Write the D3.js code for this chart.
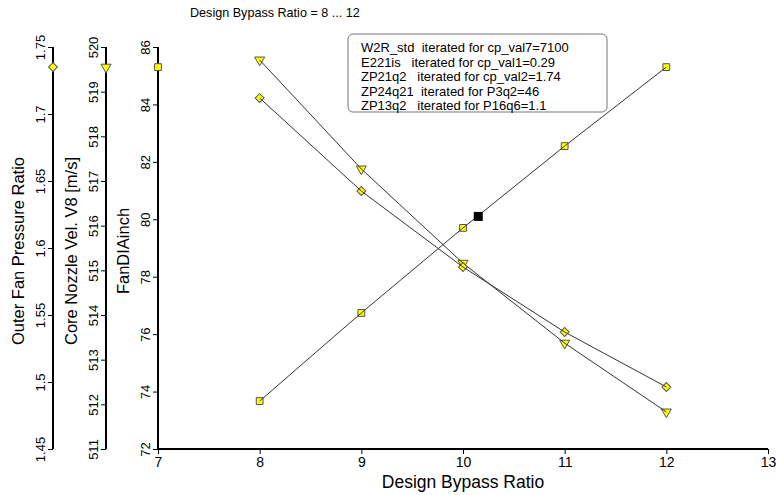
<!DOCTYPE html>
<html>
<head>
<meta charset="utf-8">
<script src="https://cdn.jsdelivr.net/npm/d3@7"></script>
<style>
  body { margin: 0; background: #fff; }
  svg { font-family: "Liberation Sans", Arial, sans-serif; }
</style>
</head>
<body>
<div id="chart"></div>
<script>
// design bypass ratio on x
const bpr = [8, 9, 10, 11, 12]
// three series, each on its own y axis
const fanDia = [73.67, 76.74, 79.70, 82.55, 85.30]
const coreVel = [519.71, 517.27, 515.16, 513.37, 511.83]
const outerFpr = [1.7119, 1.6425, 1.5858, 1.5373, 1.4963]
// marker shown on each left axis
const axisMarks = { fpr: 1.735, vel: 519.55, dia: 85.3 }
// the current operating point
const current = { bpr: 10.15, dia: 80.1 }

const fprTicks = [1.45, 1.5, 1.55, 1.6, 1.65, 1.7, 1.75]
const velTicks = [511, 512, 513, 514, 515, 516, 517, 518, 519, 520]
const diaTicks = [72, 74, 76, 78, 80, 82, 84, 86]
const xTicks = [7, 8, 9, 10, 11, 12, 13]

const legendLines = [
    "W2R_std  iterated for cp_val7=7100",
    "E221is   iterated for cp_val1=0.29",
    "ZP21q2   iterated for cp_val2=1.74",
    "ZP24q21  iterated for P3q2=46",
    "ZP13q2   iterated for P16q6=1.1"
]

const width = 776, height = 495
const plotTop = 47, plotBottom = 449
const axFpr = 53, axVel = 106, axDia = 158, plotRight = 768

const svg = d3.select("#chart").append("svg")
    .attr("width", width)
    .attr("height", height)

const x = d3.scaleLinear().domain([7, 13]).range([axDia, plotRight])
const yDia = d3.scaleLinear().domain([72, 86]).range([plotBottom, plotTop])
const yVel = d3.scaleLinear().domain([511, 520]).range([plotBottom, plotTop])
const yFpr = d3.scaleLinear().domain([1.45, 1.75]).range([plotBottom, plotTop])

// title
svg.append("text")
    .attr("x", 190).attr("y", 17)
    .attr("font-size", 12.6)
    .text("Design Bypass Ratio = 8 ... 12")

// left axes, rotated labels
function leftAxis(scale, ticks, xPos, title) {
    const g = svg.append("g")
        .attr("transform", "translate(" + xPos + ",0)")
        .call(d3.axisLeft(scale).tickValues(ticks).tickSize(5).tickFormat(d => d))
    g.select(".domain").attr("stroke-width", 2).attr("d", "M0," + plotTop + "V" + plotBottom)
    g.selectAll(".tick line").attr("stroke-width", 1)
    g.selectAll(".tick text")
        .attr("x", 0).attr("dy", 0)
        .attr("text-anchor", "middle")
        .attr("font-size", 13)
        .attr("fill", "#000")
        .attr("transform", "translate(-8,0) rotate(-90)")
    svg.append("text")
        .attr("transform", "translate(" + (xPos - 29) + ",251) rotate(-90)")
        .attr("text-anchor", "middle")
        .attr("font-size", 16.5)
        .text(title)
}
leftAxis(yFpr, fprTicks, axFpr, "Outer Fan Pressure Ratio")
leftAxis(yVel, velTicks, axVel, "Core Nozzle Vel. V8 [m/s]")
leftAxis(yDia, diaTicks, axDia, "FanDIAinch")

// bottom axis
const gx = svg.append("g")
    .attr("transform", "translate(0," + plotBottom + ")")
    .call(d3.axisBottom(x).tickValues(xTicks).tickSize(5).tickFormat(d => d))
gx.select(".domain").attr("stroke-width", 2).attr("d", "M" + (axDia - 1) + ",0H" + plotRight)
gx.selectAll(".tick text").attr("font-size", 14).attr("fill", "#000").attr("y", 7).attr("dy", "0.8em")
svg.append("text")
    .attr("x", (axDia + plotRight) / 2).attr("y", 488)
    .attr("text-anchor", "middle")
    .attr("font-size", 17.5)
    .text("Design Bypass Ratio")

// legend box
const lg = svg.append("g").attr("transform", "translate(348,34)")
lg.append("rect")
    .attr("width", 259).attr("height", 78).attr("rx", 5)
    .attr("fill", "#fff").attr("stroke", "#777")
lg.selectAll("text")
    .data(legendLines)
    .enter()
    .append("text")
    .attr("x", 13)
    .attr("y", (d, i) => 18 + i * 14.5)
    .attr("font-size", 13)
    .style("white-space", "pre")
    .text(d => d)

// markers
const fill = "#ffff00", edge = "#555"
const sym = {
    square: d3.symbol().type(d3.symbolSquare).size(46),
    diamond: d3.symbol().type(d3.symbolSquare).size(40),
    tri: d3.symbol().type(d3.symbolTriangle).size(44)
}

function drawSeries(vals, yScale, shape, rot) {
    const pts = bpr.map((b, i) => [x(b), yScale(vals[i])])
    svg.append("g").selectAll("path")
        .data(pts)
        .enter()
        .append("path")
        .attr("d", sym[shape]())
        .attr("transform", d => "translate(" + d[0] + "," + d[1] + ") rotate(" + rot + ")")
        .attr("fill", fill).attr("stroke", edge).attr("stroke-width", 1)
    svg.append("path")
        .attr("d", d3.line()(pts))
        .attr("fill", "none").attr("stroke", "#333").attr("stroke-width", 1)
}
drawSeries(fanDia, yDia, "square", 0)
drawSeries(coreVel, yVel, "tri", 180)
drawSeries(outerFpr, yFpr, "diamond", 45)

// axis markers
svg.append("path").attr("d", sym.diamond())
    .attr("transform", "translate(" + axFpr + "," + yFpr(axisMarks.fpr) + ") rotate(45)")
    .attr("fill", fill).attr("stroke", edge)
svg.append("path").attr("d", sym.tri())
    .attr("transform", "translate(" + axVel + "," + yVel(axisMarks.vel) + ") rotate(180)")
    .attr("fill", fill).attr("stroke", edge)
svg.append("path").attr("d", sym.square())
    .attr("transform", "translate(" + axDia + "," + yDia(axisMarks.dia) + ")")
    .attr("fill", fill).attr("stroke", edge)

// current point
svg.append("rect")
    .attr("x", x(current.bpr) - 4.5).attr("y", yDia(current.dia) - 4.5)
    .attr("width", 9).attr("height", 9)
    .attr("fill", "#000")
</script>
</body>
</html>
